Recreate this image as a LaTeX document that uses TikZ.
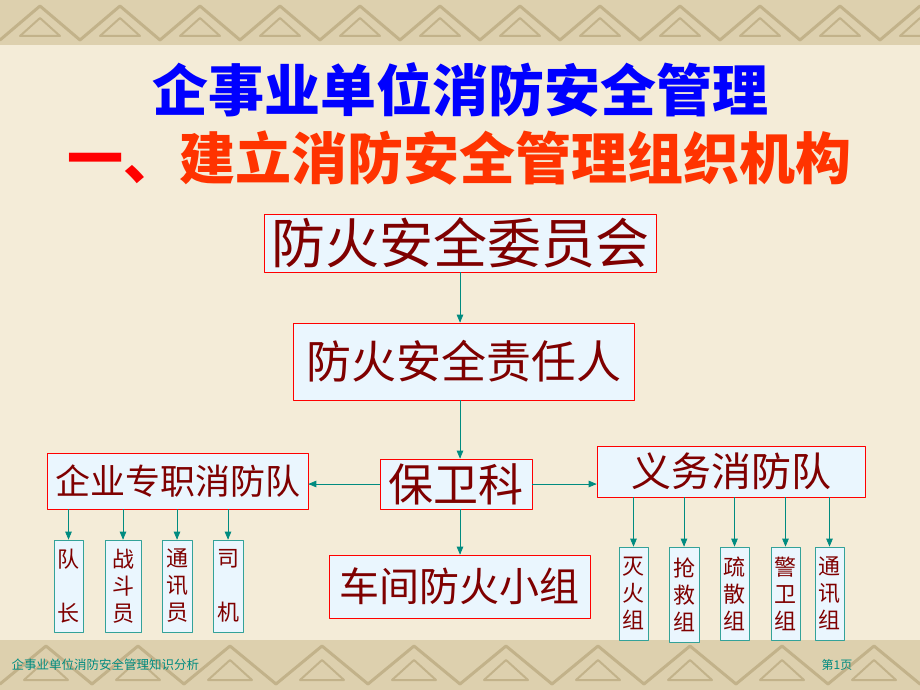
\documentclass[tikz,border=0pt]{standalone}
\usepackage{fontspec}
\usepackage{tikz}
\usetikzlibrary{arrows}
\newfontfamily\cjk{Noto Sans CJK SC}

\definecolor{paper}{HTML}{F4ECD8}
\definecolor{band}{HTML}{DDD0AE}
\definecolor{bandline}{HTML}{C2B28A}
\definecolor{boxfill}{HTML}{EAF6FE}
\definecolor{boxtext}{HTML}{7F0000}
\definecolor{teal}{HTML}{008B80}
\definecolor{titleblue}{HTML}{0000FF}
\definecolor{titlered}{HTML}{FF0000}
\definecolor{titleorange}{HTML}{FF3300}

\tikzset{
  bigbox/.style={draw=red, fill=boxfill, text=boxtext, inner sep=0pt, line width=0.8pt},
  smallbox/.style={draw=teal!80, fill=boxfill, text=boxtext, inner sep=0pt, line width=0.8pt,
    align=center, font=\cjk\fontsize{22}{27}\selectfont, minimum height=92pt},
  link/.style={-triangle 45, teal, line width=0.8pt}
}

\begin{document}
\begin{tikzpicture}[x=1pt,y=-1pt,line cap=round,line join=round]
        \useasboundingbox (0,0) rectangle (920,690);
        % background and bands
        \fill[paper] (0,0) rectangle (920,690);
        \fill[band] (0,0) rectangle (920,45);
        \fill[band] (0,640) rectangle (920,690);
        \foreach \x in {0,80,...,880} {
            \draw[bandline, line width=3pt] (\x,40) -- (\x+40,6) -- (\x+80,40);
            \draw[bandline, line width=2pt] (\x+20,36) -- (\x+40,18) -- (\x+60,36) -- cycle;
        }
        \foreach \x in {0,92,...,920} {
            \draw[bandline, line width=3pt] (\x,684) -- (\x+46,646) -- (\x+92,684);
            \draw[bandline, line width=2pt] (\x+24,680) -- (\x+46,660) -- (\x+68,680) -- cycle;
        }

        % titles
        \node[font=\cjk\bfseries\fontsize{56}{60}\selectfont, text=titleblue] (title) at (460,90) {企事业单位消防安全管理};
        \node[font=\cjk\bfseries\fontsize{56}{60}\selectfont] (subtitle) at (459,158)
            {\textcolor{titlered}{一、}\textcolor{titleorange}{建立消防安全管理组织机构}};

        % main boxes
        \node[bigbox, minimum width=392pt, minimum height=58pt, font=\cjk\fontsize{54}{58}\selectfont] (wyh) at (460,243) {防火安全委员会};
        \node[bigbox, minimum width=341pt, minimum height=77pt, font=\cjk\fontsize{45}{50}\selectfont] (zrr) at (463.5,361.5) {防火安全责任人};
        \node[bigbox, minimum width=152pt, minimum height=50pt, font=\cjk\fontsize{45}{50}\selectfont] (bwk) at (456,484) {保卫科};
        \node[bigbox, minimum width=261pt, minimum height=56pt, font=\cjk\fontsize{35}{40}\selectfont] (zz) at (177.5,481) {企业专职消防队};
        \node[bigbox, minimum width=268pt, minimum height=51pt, font=\cjk\fontsize{40}{44}\selectfont] (yw) at (731,471.5) {义务消防队};
        \node[bigbox, minimum width=261pt, minimum height=63pt, font=\cjk\fontsize{40}{44}\selectfont] (cj) at (459.5,586.5) {车间防火小组};

        % left team
        \node[smallbox, minimum width=29pt] (dz) at (68.5,586) {队\\[27pt]长};
        \node[smallbox, minimum width=36pt] (zdy) at (123,586) {战\\斗\\员};
        \node[smallbox, minimum width=30pt] (txy) at (177,586) {通\\讯\\员};
        \node[smallbox, minimum width=30pt] (sj) at (228,586) {司\\[27pt]机};

        % right team
        \node[smallbox, minimum width=29pt, minimum height=93pt] (mh) at (633.5,593.5) {灭\\火\\组};
        \node[smallbox, minimum width=30pt, minimum height=95pt] (qj) at (684,594.5) {抢\\救\\组};
        \node[smallbox, minimum width=29pt, minimum height=93pt] (ss) at (734.5,593.5) {疏\\散\\组};
        \node[smallbox, minimum width=29pt, minimum height=93pt] (jw) at (785.5,593.5) {警\\卫\\组};
        \node[smallbox, minimum width=29pt, minimum height=93pt] (tx) at (829.5,593.5) {通\\讯\\组};

        % connectors
        \draw[link] (wyh.south |- wyh.south) -- (wyh.south |- zrr.north);
        \draw[link] (zrr.south -| wyh.south) -- (wyh.south |- bwk.north);
        \draw[link] (bwk.south -| wyh.south) -- (wyh.south |- cj.north);
        \draw[link] (bwk.west) -- (zz.east |- bwk.west);
        \draw[link] (bwk.east) -- (yw.west |- bwk.east);

        \draw[link] (dz.north |- zz.south) -- (dz.north);
        \draw[link] (zdy.north |- zz.south) -- (zdy.north);
        \draw[link] (txy.north |- zz.south) -- (txy.north);
        \draw[link] (sj.north |- zz.south) -- (sj.north);

        \draw[link] (mh.north |- yw.south) -- (mh.north);
        \draw[link] (qj.north |- yw.south) -- (qj.north);
        \draw[link] (ss.north |- yw.south) -- (ss.north);
        \draw[link] (jw.north |- yw.south) -- (jw.north);
        \draw[link] (tx.north |- yw.south) -- (tx.north);

        % footer
        \node[anchor=west, font=\cjk\fontsize{12.5}{14}\selectfont, text=teal] (foot) at (8,665) {企事业单位消防安全管理知识分析};
        \node[font=\cjk\fontsize{12}{14}\selectfont, text=teal] (page) at (837,665) {第1页};
    \end{tikzpicture}
\end{document}
